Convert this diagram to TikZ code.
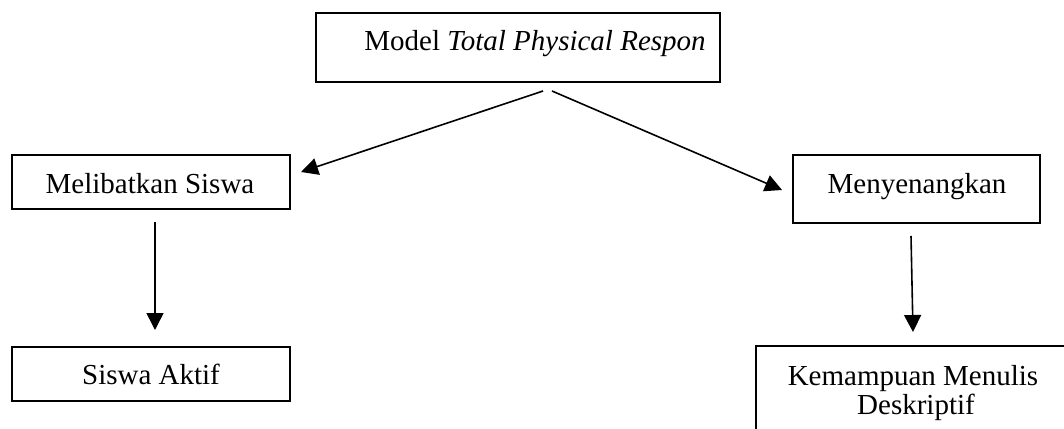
\documentclass[tikz,border=0pt]{standalone}
\usepackage{fontspec}
\setmainfont{Liberation Serif}
\usetikzlibrary{arrows.meta}
\begin{document}
\begin{tikzpicture}[x=1pt,y=-1pt,
  box/.style={draw,line width=2pt,inner sep=0pt,anchor=north west},
  txt/.style={anchor=base,inner sep=0pt,font=\fontsize{29}{27}\selectfont},
  arr/.style={line width=1.6pt,-{Triangle[length=17pt,width=17pt]}}]
\useasboundingbox (0,0) rectangle (1064,428);
% boxes
\node[box,minimum width=404pt,minimum height=69pt] (top) at (315,12) {};
\node[box,minimum width=278pt,minimum height=54pt] (lone) at (11,154) {};
\node[box,minimum width=247pt,minimum height=68pt] (rone) at (792,154) {};
\node[box,minimum width=278pt,minimum height=54pt] (ltwo) at (11,346) {};
\coordinate (rtwoB) at (756,440);
\coordinate (rtwoL) at (756,346);
\coordinate (rtwoR) at (1080,346);
\draw[line width=2pt] (rtwoB) -- (rtwoL) -- (rtwoR);
% texts
\node[txt] (toptext) at (535,50) {Model \textit{Total Physical Respon}};
\node[txt] (lonetext) at (150,193) {Melibatkan Siswa};
\node[txt] (ronetext) at (917,193) {Menyenangkan};
\node[txt] (ltwotext) at (151,384) {Siswa Aktif};
\node[txt] (rtwotexta) at (913,385) {Kemampuan Menulis};
\node[txt] (rtwotextb) at (916,414) {Deskriptif};
% arrows
\coordinate (s1) at (543,91);
\coordinate (e1) at (301,172);
\coordinate (s2) at (552,91);
\coordinate (e2) at (782,190);
\coordinate (s3) at (155,222);
\coordinate (e3) at (155,330);
\coordinate (s4) at (911,236);
\coordinate (e4) at (913,332);
\draw[arr] (s1) -- (e1);
\draw[arr] (s2) -- (e2);
\draw[arr] (s3) -- (e3);
\draw[arr] (s4) -- (e4);
\end{tikzpicture}
\end{document}
